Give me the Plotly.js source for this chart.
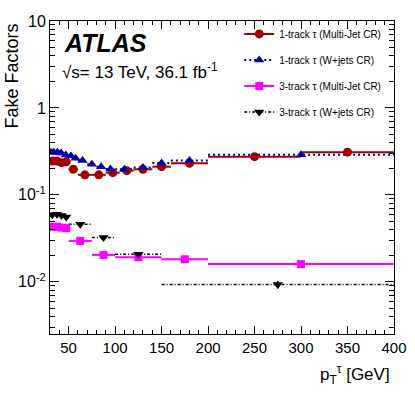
<!DOCTYPE html>
<html>
<head>
<meta charset="utf-8">
<script src="https://cdn.plot.ly/plotly-3.0.1.min.js"></script>
<style>
html,body{margin:0;padding:0;background:#fff;}
#chart{width:415px;height:399px;}
</style>
</head>
<body>
<div id="chart"></div>
<script>
// ---- Data (bin edges and fake-factor values) ----
const oneMJ_lo  = [30, 35, 40, 45, 50, 60, 75, 90, 105, 120, 140, 160, 200, 300];
const oneMJ_hi  = [35, 40, 45, 50, 60, 75, 90, 105, 120, 140, 160, 200, 300, 400];
const oneMJ_val = [0.245, 0.245, 0.235, 0.24, 0.197, 0.17, 0.17, 0.18, 0.19, 0.197, 0.211, 0.231, 0.275, 0.31];

const oneW_lo  = [30, 32, 36, 40, 44, 50, 55, 60, 70, 80, 90, 100, 120, 140, 160, 200];
const oneW_hi  = [32, 36, 40, 44, 50, 55, 60, 70, 80, 90, 100, 120, 140, 160, 200, 400];
const oneW_val = [0.31, 0.31, 0.31, 0.303, 0.288, 0.281, 0.264, 0.248, 0.225, 0.211, 0.199, 0.197, 0.206, 0.233, 0.248, 0.29];

const threeMJ_lo  = [30, 35, 40, 45, 50, 75, 100, 150, 200];
const threeMJ_hi  = [35, 40, 45, 50, 75, 100, 150, 200, 400];
const threeMJ_val = [0.043, 0.043, 0.042, 0.0415, 0.0296, 0.0204, 0.0192, 0.0182, 0.016];

const threeW_lo  = [30, 35, 40, 45, 50, 75, 100, 150];
const threeW_hi  = [35, 40, 45, 50, 75, 100, 150, 400];
const threeW_val = [0.059, 0.060, 0.058, 0.0555, 0.0459, 0.0324, 0.0208, 0.0093];
const threeW_err = [0, 0, 0, 0, 0, 0, 0, 0.0009];

const seriesNames = [
  "1-track τ (Multi-Jet CR)",
  "1-track τ (W+jets CR)",
  "3-track τ (Multi-Jet CR)",
  "3-track τ (W+jets CR)"
];
const xTickVals = [50, 100, 150, 200, 250, 300, 350, 400];
const yTickVals = [0.01, 0.1, 1, 10];
const yTickText = ["10<sup>-2</sup>", "10<sup>-1</sup>", "1", "10"];

// ---- helpers ----
function segTrace(lo, hi, val, color, dash, width) {
  const x = [], y = [];
  for (let i = 0; i < lo.length; i++) { x.push(lo[i], hi[i], null); y.push(val[i], val[i], null); }
  return {x, y, type: 'scatter', mode: 'lines', showlegend: false, hoverinfo: 'skip',
          line: {color, dash, width}, connectgaps: false};
}
function markTrace(lo, hi, val, err, name, color, symbol, size, dash, width, group) {
  const x = [], y = [], e = [];
  for (let i = 0; i < lo.length; i++) {
    x.push((lo[i] + hi[i]) / 2, null);
    y.push(val[i], null);
    e.push(err ? err[i] : 0, null);
  }
  const t = {x, y, name, type: 'scatter', mode: 'lines+markers', connectgaps: false,
    legendgroup: group,
    line: {color, dash, width},
    marker: {color, symbol, size, line: {width: 0}}};
  if (err) t.error_y = {type: 'data', array: e, visible: true, color, thickness: 1.5, width: 0};
  return t;
}

const cRed = '#a00000', cBlue = '#0000a8', cMag = '#ff00ff', cBlk = '#000000';

const traces = [
  segTrace(oneMJ_lo, oneMJ_hi, oneMJ_val, cRed, 'solid', 2),
  segTrace(oneW_lo, oneW_hi, oneW_val, cBlue, '2px,3px', 2),
  segTrace(threeMJ_lo, threeMJ_hi, threeMJ_val, cMag, 'solid', 2),
  segTrace(threeW_lo, threeW_hi, threeW_val, cBlk, '3px,2px,1px,2px', 1.5),
  markTrace(oneMJ_lo, oneMJ_hi, oneMJ_val, null, seriesNames[0], cRed, 'circle', 9, 'solid', 2, 'a'),
  markTrace(oneW_lo, oneW_hi, oneW_val, null, seriesNames[1], cBlue, 'triangle-up', 9, '2px,3px', 2, 'b'),
  markTrace(threeMJ_lo, threeMJ_hi, threeMJ_val, null, seriesNames[2], cMag, 'square', 8, 'solid', 2, 'c'),
  markTrace(threeW_lo, threeW_hi, threeW_val, threeW_err, seriesNames[3], cBlk, 'triangle-down', 9, '3px,2px,1px,2px', 1.5, 'd')
];

// minor ticks on the log axis: 2..9 in each decade
const yMinor = [];
for (let d = -3; d <= 1; d++) for (let k = 2; k <= 9; k++) yMinor.push(k * Math.pow(10, d));

const FONT = 'Liberation Sans, Arial, Helvetica, sans-serif';

const layout = {
  width: 415, height: 399,
  margin: {l: 50, r: 21, t: 21, b: 65, pad: 0},
  paper_bgcolor: '#fff', plot_bgcolor: '#fff',
  font: {family: FONT, color: '#000', size: 15},
  showlegend: true,
  legend: {
    x: 0.55, y: 1.005, xanchor: 'left', yanchor: 'top',
    bgcolor: 'rgba(0,0,0,0)', borderwidth: 0,
    font: {family: FONT, size: 10, color: '#000'},
    traceorder: 'grouped', tracegroupgap: 7
  },
  xaxis: {
    range: [30, 400], tickmode: 'array', tickvals: xTickVals,
    ticks: 'inside', ticklen: 8, tickwidth: 1, tickcolor: '#000',
    minor: {dtick: 10, tick0: 0, ticks: 'inside', ticklen: 4, tickcolor: '#000'},
    showline: true, linecolor: '#000', linewidth: 1, mirror: 'ticks',
    showgrid: false, zeroline: false,
    tickfont: {family: FONT, size: 15, color: '#000'}
  },
  yaxis: {
    type: 'log', range: [-2.6, 1], tickmode: 'array', tickvals: yTickVals, ticktext: yTickText,
    ticks: 'inside', ticklen: 9, tickwidth: 1, tickcolor: '#000',
    minor: {tickmode: 'array', tickvals: yMinor, ticks: 'inside', ticklen: 5, tickcolor: '#000'},
    showline: true, linecolor: '#000', linewidth: 1, mirror: 'ticks',
    showgrid: false, zeroline: false,
    tickfont: {family: FONT, size: 16, color: '#000'}
  },
  annotations: [
    {xref: 'paper', yref: 'paper', x: 0.035, y: 0.93, xanchor: 'left', yanchor: 'middle',
     text: 'ATLAS', showarrow: false,
     font: {family: FONT, size: 25, weight: 'bold', style: 'italic', color: '#000'}},
    {xref: 'paper', yref: 'paper', x: 0.028, y: 0.84, xanchor: 'left', yanchor: 'middle',
     text: '√s= 13 TeV, 36.1 fb<sup>-1</sup>', showarrow: false,
     font: {family: FONT, size: 17, color: '#000'}},
    {xref: 'paper', yref: 'paper', x: -0.11, y: 0.997, xanchor: 'center', yanchor: 'top',
     textangle: -90, text: 'Fake Factors', showarrow: false,
     font: {family: FONT, size: 18, color: '#000'}},
    {xref: 'paper', yref: 'paper', x: 0.994, y: -0.13, xanchor: 'right', yanchor: 'middle',
     text: 'p<sub>T</sub><sup>τ</sup> [GeV]', showarrow: false,
     font: {family: FONT, size: 17, color: '#000'}}
  ]
};

Plotly.newPlot('chart', traces, layout, {displayModeBar: false, staticPlot: true});
</script>
</body>
</html>
